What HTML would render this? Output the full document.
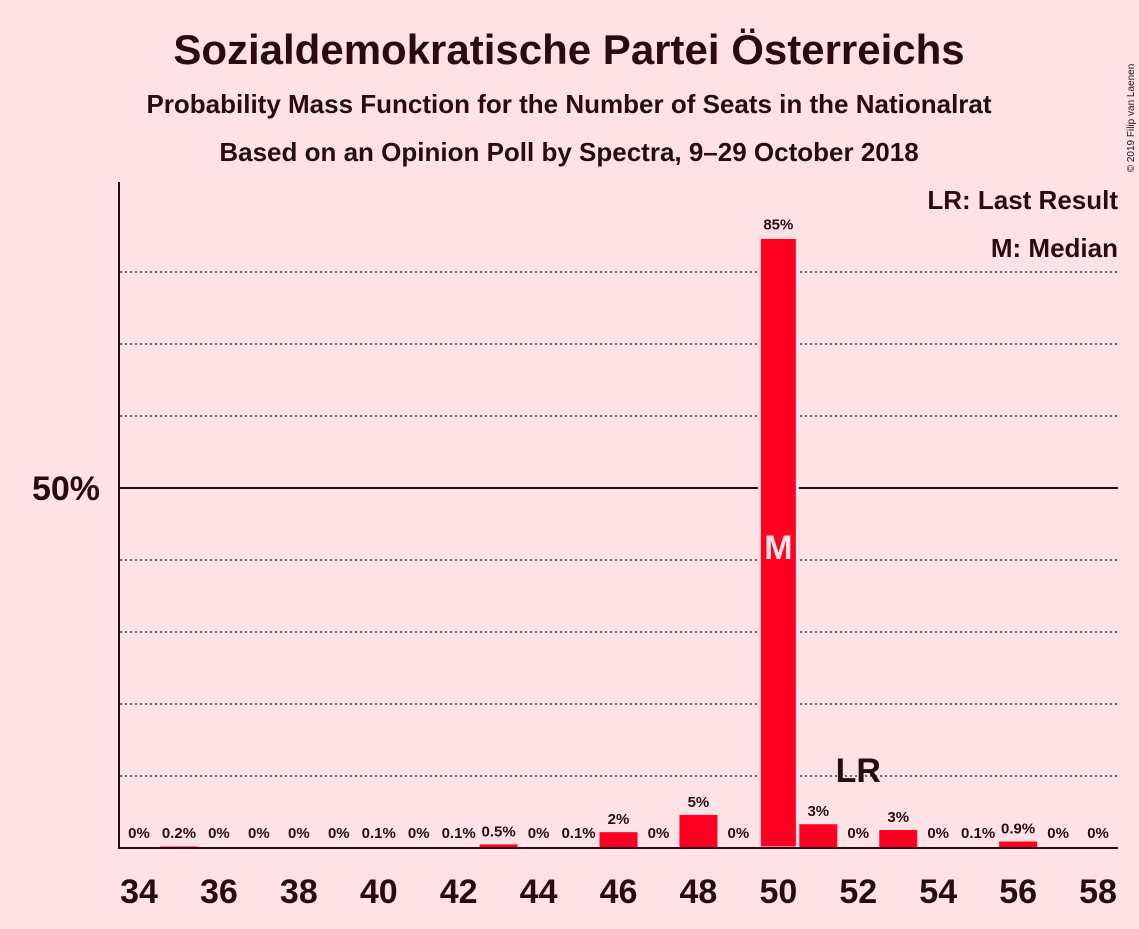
<!DOCTYPE html>
<html><head><meta charset="utf-8"><style>
body{margin:0;background:#ffe2e6;font-family:"Liberation Sans",sans-serif;}
svg text{font-family:"Liberation Sans",sans-serif;fill:#2b0a12;}
</style></head><body>
<svg id="chart" width="1139" height="924">
<rect width="1139" height="924" fill="#ffe2e6"/>
<text x="569" y="64" text-anchor="middle" font-size="42" font-weight="bold">Sozialdemokratische Partei Österreichs</text>
<text x="569" y="113" text-anchor="middle" font-size="26" font-weight="bold">Probability Mass Function for the Number of Seats in the Nationalrat</text>
<text x="569" y="161" text-anchor="middle" font-size="26" font-weight="bold">Based on an Opinion Poll by Spectra, 9–29 October 2018</text>
<text x="1134" y="118" font-size="10" transform="rotate(-90 1134 118)" text-anchor="middle">© 2019 Filip van Laenen</text>
<text x="1118" y="209" text-anchor="end" font-size="26" font-weight="bold">LR: Last Result</text>
<text x="1118" y="257" text-anchor="end" font-size="26" font-weight="bold">M: Median</text>
<g id="grid"></g><g id="bars"></g><g id="xlabels"></g>
<line x1="119" y1="182" x2="119" y2="849" stroke="#2b0a12" stroke-width="2"/>
<line x1="118" y1="848" x2="1118" y2="848" stroke="#2b0a12" stroke-width="2"/>
<text x="100" y="500" text-anchor="end" font-size="34" font-weight="bold">50%</text>
</svg>
<script>
const seats=[34,35,36,37,38,39,40,41,42,43,44,45,46,47,48,49,50,51,52,53,54,55,56,57,58];
const probs=[0,0.2,0,0,0,0,0.1,0,0.1,0.5,0,0.1,2.2,0,4.6,0,84.8,3.3,0,2.5,0,0.1,0.9,0,0];
const labels=["0%","0.2%","0%","0%","0%","0%","0.1%","0%","0.1%","0.5%","0%","0.1%","2%","0%","5%","0%","85%","3%","0%","3%","0%","0.1%","0.9%","0%","0%"];
const gridTicks=[10,20,30,40,50,60,70,80];
const medianSeat=50, lastResultSeat=52;
const NS="http://www.w3.org/2000/svg";
const x=s=>139+(s-34)*39.96;
const y=p=>848-p*7.2;
function mk(t,a,parent,txt){const e=document.createElementNS(NS,t);for(const k in a)e.setAttribute(k,a[k]);if(txt!==undefined)e.textContent=txt;document.getElementById(parent).appendChild(e);return e;}
gridTicks.forEach(g=>{
 const l=mk('line',{x1:120,x2:1118,y1:y(g),y2:y(g),stroke:'#2b0a12','stroke-width':g===50?2:1.3,'stroke-dasharray':g===50?'none':'2,3'},'grid');
 
 
});
seats.forEach((s,i)=>{
 const p=probs[i];
 if(p>0){
  const r=mk('rect',{x:x(s)-19,y:y(p),width:38,height:848-y(p),fill:'#ff0022',stroke:'#ffe2e6','stroke-width':p>40?3:0},'bars');
  
  
 }
 const t=mk('text',{x:x(s),y:Math.min(y(p)-8,838),'text-anchor':'middle','font-size':15,'font-weight':'bold'},'bars',labels[i]);
 
 
 if(s%2===0){
  const xl=mk('text',{x:x(s),y:903,'text-anchor':'middle','font-size':34,'font-weight':'bold'},'xlabels',String(s));
  
  
 }
});
const m=mk('text',{x:x(medianSeat),y:559,'text-anchor':'middle','font-size':34,'font-weight':'bold',style:'fill:#ffe2e6'},'bars','M');


const lr=mk('text',{x:x(lastResultSeat),y:782,'text-anchor':'middle','font-size':34,'font-weight':'bold'},'bars','LR');


</script>
</body></html>
